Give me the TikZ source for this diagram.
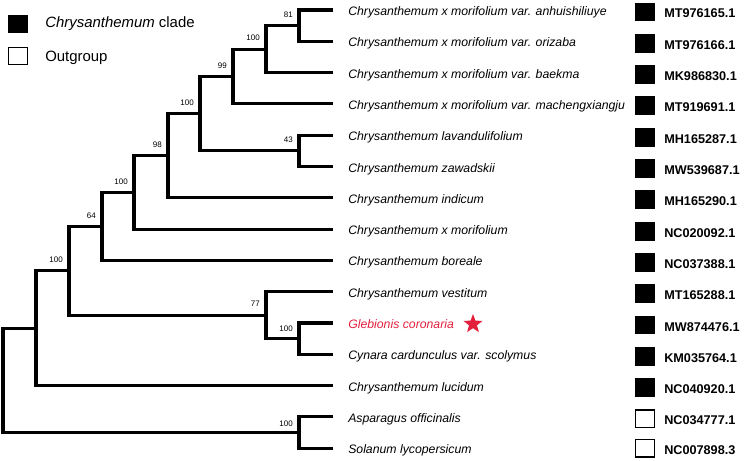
\documentclass[tikz,border=0pt]{standalone}
\usepackage{fontspec}
\setmainfont{Liberation Sans}
\usetikzlibrary{shapes.geometric}
\definecolor{glebred}{RGB}{226,32,60}

\begin{document}
\begin{tikzpicture}[x=0.75pt, y=-0.75pt,
  branch/.style={line width=2.3pt},
  taxon/.style={anchor=base west, inner sep=0pt, font=\fontsize{9.2}{10}\selectfont\itshape},
  acc/.style={anchor=base west, inner sep=0pt, font=\fontsize{9.5}{10}\selectfont\bfseries},
  ingroup/.style={draw, fill=black, line width=1.2pt, minimum width=14pt, minimum height=13pt, inner sep=0pt},
  outgroup/.style={ingroup, fill=white},
  boot/.style={anchor=south east, inner sep=0pt, font=\fontsize{6}{6}\selectfont},
  legtext/.style={anchor=base west, inner sep=0pt, font=\fontsize{11.2}{12}\selectfont}
]
  \useasboundingbox (0,0) rectangle (745,460);

  %% Legend
  \node[ingroup]  (legin)  at (18,24) {};
  \node[legtext]  (leginl) at (45,28) {\textit{Chrysanthemum} clade};
  \node[outgroup] (legout) at (18,56) {};
  \node[legtext]  (legoutl) at (45,61) {Outgroup};

  %% Leaf tips
  \coordinate (l1)  at (333,10);
  \coordinate (l2)  at (333,41.3);
  \coordinate (l3)  at (333,72.6);
  \coordinate (l4)  at (333,103.9);
  \coordinate (l5)  at (333,135.2);
  \coordinate (l6)  at (333,166.5);
  \coordinate (l7)  at (333,197.8);
  \coordinate (l8)  at (333,229.1);
  \coordinate (l9)  at (333,260.4);
  \coordinate (l10) at (333,291.7);
  \coordinate (l11) at (333,323);
  \coordinate (l12) at (333,354.3);
  \coordinate (l13) at (333,385.6);
  \coordinate (l14) at (333,416.9);
  \coordinate (l15) at (333,448.2);

  %% Internal nodes
  \coordinate (n81)   at (299,25.65);
  \coordinate (n100a) at (266,49.1);
  \coordinate (n99)   at (233,76.5);
  \coordinate (n43)   at (299,150.85);
  \coordinate (n100b) at (200,113.7);
  \coordinate (n98)   at (168,155.75);
  \coordinate (n100c) at (134,192.4);
  \coordinate (n64)   at (102,226.4);
  \coordinate (n100g) at (299,338.65);
  \coordinate (n77)   at (266,315.2);
  \coordinate (n100d) at (69,270.8);
  \coordinate (nluc)  at (36,328.2);
  \coordinate (nout)  at (299,432.55);
  \coordinate (root)  at (3,380.4);

  %% Branches
  \draw[branch] (n81) |- (l1);
  \draw[branch] (n81) |- (l2);
  \draw[branch] (n100a) |- (n81);
  \draw[branch] (n100a) |- (l3);
  \draw[branch] (n99) |- (n100a);
  \draw[branch] (n99) |- (l4);
  \draw[branch] (n43) |- (l5);
  \draw[branch] (n43) |- (l6);
  \draw[branch] (n100b) |- (n99);
  \draw[branch] (n100b) |- (n43);
  \draw[branch] (n98) |- (n100b);
  \draw[branch] (n98) |- (l7);
  \draw[branch] (n100c) |- (n98);
  \draw[branch] (n100c) |- (l8);
  \draw[branch] (n64) |- (n100c);
  \draw[branch] (n64) |- (l9);
  \draw[branch] (n100g) |- (l11);
  \draw[branch] (n100g) |- (l12);
  \draw[branch] (n77) |- (l10);
  \draw[branch] (n77) |- (n100g);
  \draw[branch] (n100d) |- (n64);
  \draw[branch] (n100d) |- (n77);
  \draw[branch] (nluc) |- (n100d);
  \draw[branch] (nluc) |- (l13);
  \draw[branch] (nout) |- (l14);
  \draw[branch] (nout) |- (l15);
  \draw[branch] (root) |- (nluc);
  \draw[branch] (root) |- (nout);

  %% Bootstrap support
  \node[boot] (b81)   at ([shift={(-6,-8)}]n81)   {81};
  \node[boot] (b100a) at ([shift={(-6,-8)}]n100a) {100};
  \node[boot] (b99)   at ([shift={(-6,-8)}]n99)   {99};
  \node[boot] (b43)   at ([shift={(-6,-8)}]n43)   {43};
  \node[boot] (b100b) at ([shift={(-6,-8)}]n100b) {100};
  \node[boot] (b98)   at ([shift={(-6,-8)}]n98)   {98};
  \node[boot] (b100c) at ([shift={(-6,-8)}]n100c) {100};
  \node[boot] (b64)   at ([shift={(-6,-8)}]n64)   {64};
  \node[boot] (b100d) at ([shift={(-6,-8)}]n100d) {100};
  \node[boot] (b77)   at ([shift={(-6,-8)}]n77)   {77};
  \node[boot] (b100g) at ([shift={(-6,-7)}]n100g) {100};
  \node[boot] (b100o) at ([shift={(-6,-6)}]nout)  {100};

  %% Taxon names
  \node[taxon] (t1)  at (348,15.5)  {Chrysanthemum x morifolium var. anhuishiliuye};
  \node[taxon] (t2)  at (348,46.8)  {Chrysanthemum x morifolium var. orizaba};
  \node[taxon] (t3)  at (348,78.1)  {Chrysanthemum x morifolium var. baekma};
  \node[taxon] (t4)  at (348,109.4) {Chrysanthemum x morifolium var. machengxiangju};
  \node[taxon] (t5)  at (348,140.7) {Chrysanthemum lavandulifolium};
  \node[taxon] (t6)  at (348,172)   {Chrysanthemum zawadskii};
  \node[taxon] (t7)  at (348,203.3) {Chrysanthemum indicum};
  \node[taxon] (t8)  at (348,234.6) {Chrysanthemum x morifolium};
  \node[taxon] (t9)  at (348,265.9) {Chrysanthemum boreale};
  \node[taxon] (t10) at (348,297.2) {Chrysanthemum vestitum};
  \node[taxon, text=glebred] (t11) at (348,328.5) {Glebionis coronaria};
  \node[taxon] (t12) at (348,359.8) {Cynara cardunculus var. scolymus};
  \node[taxon] (t13) at (348,391.1) {Chrysanthemum lucidum};
  \node[taxon] (t14) at (348,422.4) {Asparagus officinalis};
  \node[taxon] (t15) at (348,453.7) {Solanum lycopersicum};
  \node[star, star points=5, star point ratio=2.4, fill=glebred, minimum size=15pt, inner sep=0pt] (gstar) at (473,324) {};

  %% Accession boxes and numbers
  \node[ingroup]  (c1)  at (645,12)    {};
  \node[ingroup]  (c2)  at (645,43.3)  {};
  \node[ingroup]  (c3)  at (645,74.6)  {};
  \node[ingroup]  (c4)  at (645,105.9) {};
  \node[ingroup]  (c5)  at (645,137.2) {};
  \node[ingroup]  (c6)  at (645,168.5) {};
  \node[ingroup]  (c7)  at (645,199.8) {};
  \node[ingroup]  (c8)  at (645,231.1) {};
  \node[ingroup]  (c9)  at (645,262.4) {};
  \node[ingroup]  (c10) at (645,293.7) {};
  \node[ingroup]  (c11) at (645,325)   {};
  \node[ingroup]  (c12) at (645,356.3) {};
  \node[ingroup]  (c13) at (645,387.6) {};
  \node[outgroup] (c14) at (645,418.9) {};
  \node[outgroup] (c15) at (645,448.2) {};

  \node[acc] (a1)  at (664,18)    {MT976165.1};
  \node[acc] (a2)  at (664,49.3)  {MT976166.1};
  \node[acc] (a3)  at (664,80.6)  {MK986830.1};
  \node[acc] (a4)  at (664,111.9) {MT919691.1};
  \node[acc] (a5)  at (664,143.2) {MH165287.1};
  \node[acc] (a6)  at (664,174.5) {MW539687.1};
  \node[acc] (a7)  at (664,205.8) {MH165290.1};
  \node[acc] (a8)  at (664,237.1) {NC020092.1};
  \node[acc] (a9)  at (664,268.4) {NC037388.1};
  \node[acc] (a10) at (664,299.7) {MT165288.1};
  \node[acc] (a11) at (664,331)   {MW874476.1};
  \node[acc] (a12) at (664,362.3) {KM035764.1};
  \node[acc] (a13) at (664,393.6) {NC040920.1};
  \node[acc] (a14) at (664,424.9) {NC034777.1};
  \node[acc] (a15) at (664,454.2) {NC007898.3};
\end{tikzpicture}
\end{document}
